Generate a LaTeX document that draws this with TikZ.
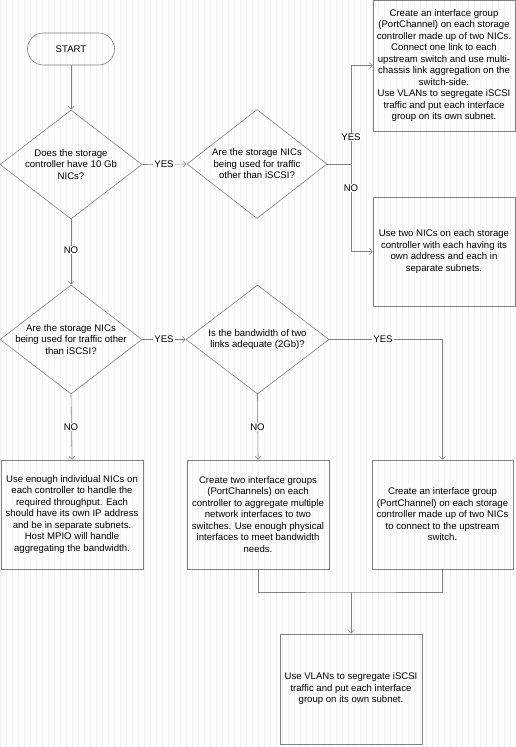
\documentclass[tikz,border=0pt]{standalone}
\usepackage{fontspec}
\setmainfont{Liberation Sans}
\usetikzlibrary{shapes.geometric,arrows.meta}
\begin{document}
\begin{tikzpicture}[x=1pt,y=-1pt,
  ln/.style={draw=black!50, line width=0.6pt},
  arr/.style={ln, -{Straight Barb[length=3pt,width=6pt]}},
  txt/.style={font=\fontsize{9.6}{11.5}\selectfont, align=center, text=black},
  dia/.style={ln, diamond, minimum width=142pt, minimum height=109pt, inner sep=0pt},
  box/.style={ln, rectangle, minimum width=142pt, minimum height=109pt, inner sep=0pt, txt},
  lbl/.style={txt, fill=white, inner sep=1pt}]
\useasboundingbox (0,0) rectangle (516,747);
\fill[white] (0,0) rectangle (516,747);
\draw[black!5, line width=0.3pt, step=6] (0,0) grid (516,747);

% nodes
\node[ln, rectangle, rounded corners=16pt, minimum width=87pt, minimum height=32pt, txt] (start) at (71,49) {START};
\node[dia, label={[txt]center:Does the storage\\controller have 10 Gb\\NICs?}] (d1) at (71,164.5) {};
\node[dia, minimum width=140pt, label={[txt]center:Are the storage NICs\\being used for traffic\\other than iSCSI?}] (d2) at (257,164) {};
\node[box, minimum height=131pt] (b1) at (444,65.5) {Create an interface group\\(PortChannel) on each storage\\controller made up of two NICs.\\Connect one link to each\\upstream switch and use multi-\\chassis link aggregation on the\\switch-side.\\Use VLANs to segregate iSCSI\\traffic and put each interface\\group on its own subnet.};
\node[box] (b2) at (444,251.5) {Use two NICs on each storage\\controller with each having its\\own address and each in\\separate subnets.};
\node[dia, label={[txt]center:Are the storage NICs\\being used for traffic other\\than iSCSI?}] (d3) at (71,339.5) {};
\node[dia, minimum width=143pt, label={[txt]center:Is the bandwidth of two\\links adequate (2Gb)?}] (d4) at (257.5,339.5) {};
\node[box] (b3) at (72,514.5) {Use enough individual NICs on\\each controller to handle the\\required throughput. Each\\should have its own IP address\\and be in separate subnets.\\Host MPIO will handle\\aggregating the bandwidth.};
\node[box] (b4) at (258,514.5) {Create two interface groups\\(PortChannels) on each\\controller to aggregate multiple\\network interfaces to two\\switches. Use enough physical\\interfaces to meet bandwidth\\needs.};
\node[box, minimum width=141pt] (b5) at (442.5,514.5) {Create an interface group\\(PortChannel) on each storage\\controller made up of two NICs\\to connect to the upstream\\switch.};
\node[box, minimum height=110pt] (b6) at (351,689) {Use VLANs to segregate iSCSI\\traffic and put each interface\\group on its own subnet.};

\coordinate (j1) at (351,164);
\coordinate (m) at (351,592);

% connectors
\draw[arr] (start) -- (d1);
\draw[arr] (d1.east) -- (d2.west);
\draw[ln] (d2.east) -- (j1);
\draw[arr] (j1) |- (b1.west);
\draw[arr] (j1) |- (b2.west);
\draw[arr] (d1.south) -- (d3.north);
\draw[arr] (d3.east) -- (d4.west);
\draw[arr] (d4.east) -| (b5.north);
\draw[arr] (d3.south) -- (b3.north);
\draw[arr] (d4.south) -- (b4.north);
\draw[ln] (b4.south) |- (m) -| (b5.south);
\draw[arr] (m) -- (b6.north);

% labels
\node[lbl] (y1) at (164,164) {YES};
\node[lbl] (y2) at (351,137) {YES};
\node[lbl] (n2) at (351,188) {NO};
\node[lbl] (n1) at (71,250) {NO};
\node[lbl] (y3) at (164,339.5) {YES};
\node[lbl] (y4) at (383,339.5) {YES};
\node[lbl] (n3) at (71,427) {NO};
\node[lbl] (n4) at (257.5,427) {NO};
\end{tikzpicture}
\end{document}
